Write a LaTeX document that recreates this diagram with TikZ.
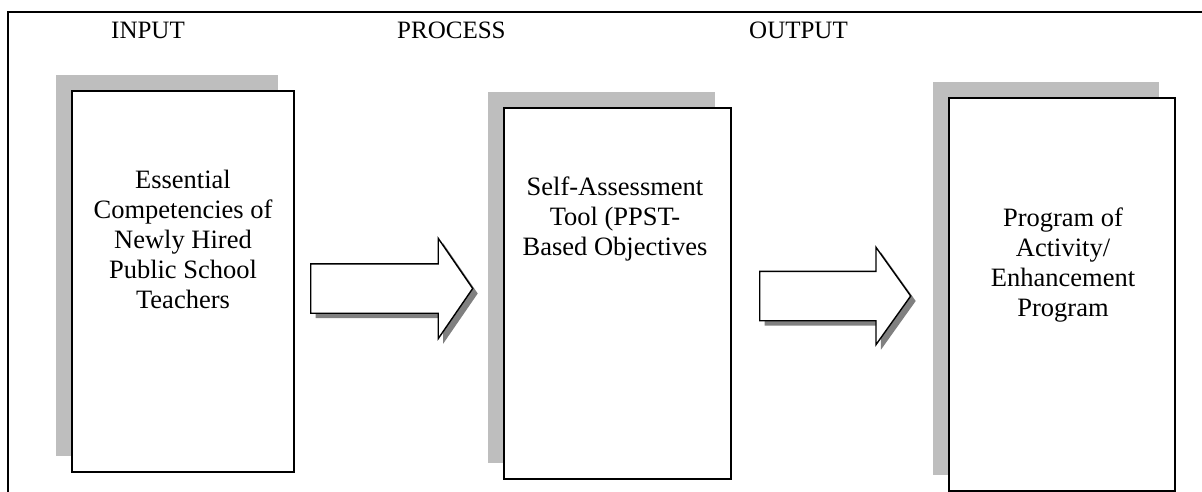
\documentclass[tikz,border=0pt]{standalone}
\usepackage{fontspec}
\setmainfont{Liberation Serif}
\usetikzlibrary{shapes.arrows,shadows}
\definecolor{backpanel}{RGB}{190,190,190}
\definecolor{arrowshade}{RGB}{128,128,128}
\tikzset{
  frameline/.style={line width=1.5pt,black},
  stagebox/.style={rectangle,draw=black,line width=1.6pt,fill=white,inner sep=0pt,
    drop shadow={shadow xshift=-16pt,shadow yshift=16pt,fill=backpanel,opacity=1}},
  heading/.style={anchor=base west,inner sep=0pt,font=\fontsize{25}{30}\selectfont},
  % anchor=base puts the last line on the given baseline
  boxtext/.style={anchor=base,align=center,inner sep=0pt,font=\fontsize{26.5}{30}\selectfont},
  flowarrow/.style={single arrow,draw=black,line width=1.4pt,fill=white,anchor=tail,
    inner xsep=0pt,inner ysep=24pt,
    minimum width=99pt,minimum height=162pt,single arrow head extend=25.5pt,
    single arrow tip angle=111,
    drop shadow={shadow xshift=5pt,shadow yshift=-5pt,fill=arrowshade,opacity=1}}
}
\begin{document}
\begin{tikzpicture}[x=1pt,y=-1pt]
  \useasboundingbox (0,0) rectangle (1202,492);
  % outer frame (open at the bottom and right)
  \draw[frameline] (8,492) -- (8,12) -- (1202,12);
  % column headings
  \node[heading] (hin) at (111,39) {INPUT};
  \node[heading] (hproc) at (397,39) {PROCESS};
  \node[heading] (hout) at (749,39) {OUTPUT};
  % stage boxes
  \node[stagebox,minimum width=222pt,minimum height=381pt] (input) at (183,281.5) {};
  \node[stagebox,minimum width=227pt,minimum height=371pt] (process) at (617.5,293.5) {};
  \node[stagebox,minimum width=226pt,minimum height=393pt] (output) at (1062,294.5) {};
  % stage texts
  \node[boxtext] (tin) at (183,308) {Essential\\Competencies of\\Newly Hired\\Public School\\Teachers};
  \node[boxtext] (tproc) at (615,255) {Self-Assessment\\Tool (PPST-\\Based Objectives};
  \node[boxtext] (tout) at (1063,316.7) {Program of\\Activity/\\Enhancement\\Program};
  % block arrows between the stages
  \node[flowarrow] (a1) at (310,288.5) {};
  \node[flowarrow,minimum width=96pt,minimum height=151pt,single arrow head extend=24pt,
    single arrow tip angle=109] (a2) at (759,296) {};
\end{tikzpicture}
\end{document}
